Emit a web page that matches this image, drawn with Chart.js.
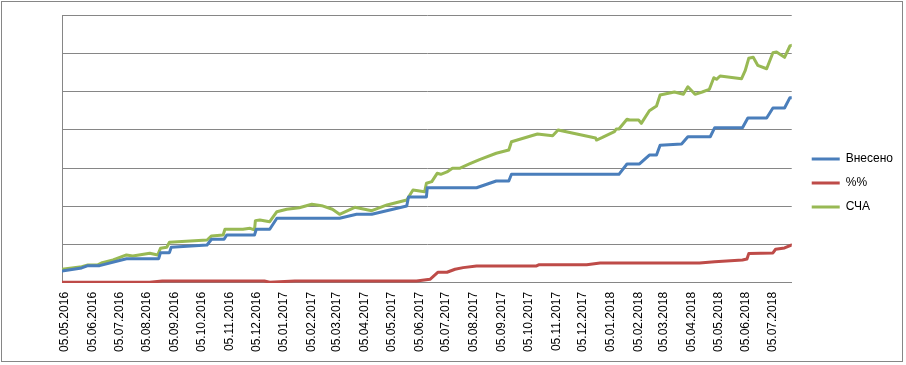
<!DOCTYPE html>
<html>
<head>
<meta charset="utf-8">
<script src="https://cdn.jsdelivr.net/npm/chart.js@4.4.1/dist/chart.umd.min.js"></script>
<style>
  html, body { margin: 0; padding: 0; background: #fff; }
  #box {
    position: absolute; left: 1px; top: 1px;
    width: 900px; height: 359px;
    border: 1px solid #868686;
  }
</style>
</head>
<body>
<div id="box"><canvas id="chart"></canvas></div>
<script>
// monthly tick labels on the date axis
const tickLabels = ['05.05.2016','05.06.2016','05.07.2016','05.08.2016','05.09.2016','05.10.2016',
  '05.11.2016','05.12.2016','05.01.2017','05.02.2017','05.03.2017','05.04.2017','05.05.2017',
  '05.06.2017','05.07.2017','05.08.2017','05.09.2017','05.10.2017','05.11.2017','05.12.2017',
  '05.01.2018','05.02.2018','05.03.2018','05.04.2018','05.05.2018','05.06.2018','05.07.2018'];

// Внесено
const vnesenoDates = ['02.05.2016','24.05.2016','31.05.2016','13.06.2016','13.07.2016','18.08.2016',
  '20.08.2016','30.08.2016','01.09.2016','11.10.2016','16.10.2016','30.10.2016','02.11.2016',
  '03.12.2016','05.12.2016','20.12.2016','28.12.2016','08.03.2017','27.03.2017','13.04.2017',
  '22.05.2017','24.05.2017','13.06.2017','14.06.2017','08.08.2017','30.08.2017','13.09.2017',
  '16.09.2017','14.01.2018','23.01.2018','06.02.2018','17.02.2018','25.02.2018','01.03.2018',
  '25.03.2018','01.04.2018','26.04.2018','01.05.2018','01.06.2018','07.06.2018','28.06.2018',
  '05.07.2018','18.07.2018','24.07.2018','26.07.2018'];
const vnesenoValues = [15.7,19.6,22.6,22.6,31.7,31.7,39.6,39.6,46.6,49.6,57.1,57.1,62.7,62.7,70.1,
  70.1,84.5,84.5,89.7,89.7,100.5,112.3,112.3,124.4,124.4,133.2,133.2,141.9,141.9,155.4,155.4,
  167.1,167.1,179.8,181.5,191.0,191.0,202.8,202.8,215.5,215.5,228.5,228.5,242.0,242.0];

// %%
const pctDates = ['02.05.2016','08.08.2016','22.08.2016','14.12.2016','20.12.2016','17.01.2017',
  '02.06.2017','17.06.2017','26.06.2017','06.07.2017','15.07.2017','24.07.2017','08.08.2017',
  '14.10.2017','17.10.2017','09.12.2017','24.12.2017','14.04.2018','01.05.2018','01.06.2018',
  '06.06.2018','08.06.2018','05.07.2018','08.07.2018','18.07.2018','26.07.2018'];
const pctValues = [0.9,0.9,2.6,2.6,0.9,2.6,2.6,4.8,14.0,14.0,17.9,20.0,22.2,22.2,23.9,23.9,26.1,
  26.1,27.8,30.0,31.3,38.3,39.2,44.0,45.7,49.6];

// СЧА
const schaDates = ['02.05.2016','24.05.2016','31.05.2016','11.06.2016','16.06.2016','28.06.2016',
  '13.07.2016','20.07.2016','08.08.2016','17.08.2016','20.08.2016','27.08.2016','30.08.2016',
  '11.10.2016','16.10.2016','29.10.2016','31.10.2016','20.11.2016','28.11.2016','03.12.2016',
  '04.12.2016','09.12.2016','20.12.2016','28.12.2016','08.01.2017','22.01.2017','05.02.2017',
  '16.02.2017','28.02.2017','08.03.2017','25.03.2017','13.04.2017','30.04.2017','22.05.2017',
  '29.05.2017','11.06.2017','13.06.2017','19.06.2017','25.06.2017','29.06.2017','06.07.2017',
  '12.07.2017','20.07.2017','31.07.2017','12.08.2017','30.08.2017','13.09.2017','16.09.2017',
  '15.10.2017','01.11.2017','07.11.2017','19.12.2017','20.12.2017','26.12.2017','09.01.2018',
  '11.01.2018','14.01.2018','23.01.2018','26.01.2018','05.02.2018','08.02.2018','17.02.2018',
  '25.02.2018','01.03.2018','17.03.2018','27.03.2018','01.04.2018','09.04.2018','17.04.2018',
  '25.04.2018','30.04.2018','03.05.2018','07.05.2018','31.05.2018','04.06.2018','08.06.2018',
  '13.06.2018','18.06.2018','28.06.2018','05.07.2018','09.07.2018','18.07.2018','24.07.2018',
  '26.07.2018'];
const schaValues = [17.9,21.3,23.5,23.5,26.5,30.0,36.6,35.3,38.8,36.6,45.3,46.6,53.1,56.1,61.4,
  62.7,70.1,70.1,71.4,69.2,81.4,82.3,80.0,93.1,96.2,98.3,102.8,100.9,96.2,89.7,98.8,94.4,101.9,
  108.4,121.4,119.2,130.2,132.3,143.2,141.9,145.0,149.8,149.8,155.4,161.5,169.4,173.7,184.5,
  194.6,192.3,199.8,189.3,186.7,189.7,197.6,201.1,201.1,213.8,212.8,212.8,208.5,225.0,231.1,
  245.5,249.4,246.4,256.3,246.4,249.4,252.9,268.1,266.0,270.3,266.8,277.2,293.4,294.7,284.3,
  279.8,300.7,301.6,294.7,309.5,310.4];

function toDay(s){
  const [d, m, y] = s.split('.').map(Number);
  return Date.UTC(y, m - 1, d) / 86400000;
}
function points(dates, values){
  return dates.map((d, i) => ({ x: toDay(d), y: values[i] }));
}

Chart.defaults.font.family = '"Liberation Sans", Arial, sans-serif';
Chart.defaults.font.size = 12;
Chart.defaults.color = '#000';

const gridColor = '#868686';

// legend sits a little away from the plot, like in Excel
const legendShift = {
  id: 'legendShift',
  afterLayout(chart){
    chart.legend.left += 8;
    chart.legend.right += 8;
    chart.legend.top -= 5;
    chart.legend.bottom -= 5;
  }
};

const ctx = document.getElementById('chart').getContext('2d');
new Chart(ctx, {
  type: 'line',
  data: {
    datasets: [
      { label: 'Внесено', data: points(vnesenoDates, vnesenoValues), borderColor: '#4A7EBB', backgroundColor: '#4A7EBB' },
      { label: '%%', data: points(pctDates, pctValues), borderColor: '#BE4B48', backgroundColor: '#BE4B48' },
      { label: 'СЧА', data: points(schaDates, schaValues), borderColor: '#98B954', backgroundColor: '#98B954' }
    ]
  },
  options: {
    responsive: true,
    maintainAspectRatio: false,
    animation: false,
    layout: { padding: { left: 60, top: 13, right: 7, bottom: 0 } },
    elements: {
      line: { borderWidth: 3, tension: 0, borderJoinStyle: 'round', borderCapStyle: 'round' },
      point: { radius: 0, hoverRadius: 0 }
    },
    scales: {
      x: {
        type: 'linear',
        min: toDay(vnesenoDates[0]),
        max: toDay(vnesenoDates[vnesenoDates.length - 1]),
        grid: { display: false, drawTicks: false },
        border: { display: true, color: gridColor },
        afterBuildTicks(scale){
          scale.ticks = tickLabels.map(s => ({ value: toDay(s) }));
        },
        ticks: {
          minRotation: 90,
          maxRotation: 90,
          padding: 9,
          autoSkip: false,
          color: '#000',
          callback: (v, i) => tickLabels[i]
        }
      },
      y: {
        min: 0,
        max: 350,
        grid: { color: gridColor, lineWidth: 1, drawTicks: false },
        border: { display: true, color: gridColor },
        ticks: { display: false, stepSize: 50 }
      }
    },
    plugins: {
      tooltip: { enabled: false },
      legend: {
        position: 'right',
        labels: {
          boxWidth: 28,
          boxHeight: 3,
          padding: 12,
          color: '#000',
          generateLabels(chart){
            return Chart.defaults.plugins.legend.labels.generateLabels(chart).map(item => {
              item.fillStyle = item.strokeStyle;
              item.lineWidth = 0;
              return item;
            });
          }
        }
      }
    }
  },
  plugins: [legendShift]
});
</script>
</body>
</html>
